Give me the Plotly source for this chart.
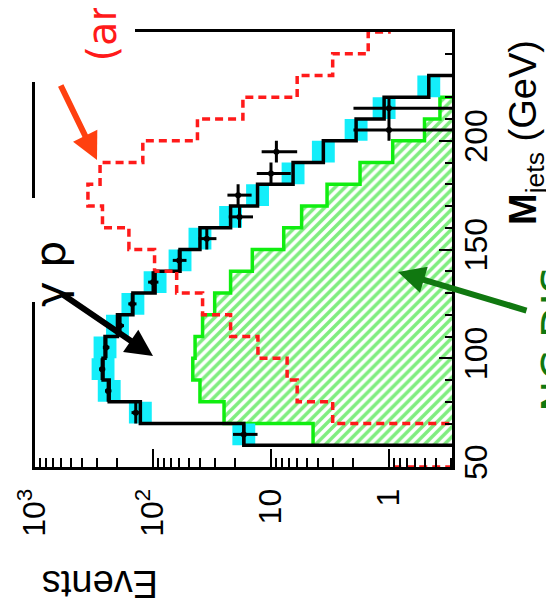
import numpy as np
import plotly.graph_objects as go

# ---------------- data ----------------
# lower edges of the M_jets bins (GeV); every bin is 10 GeV wide
m_low = [40, 50, 60, 70, 80, 90, 100, 110, 120, 130, 140, 150, 160, 170,
         180, 190, 200, 210, 220, 230, 240, 250]
bin_width = 10

# total MC (gamma p + NC DIS), black histogram
mc_total = [0, 0, 17, 128, 235, 265, 255, 200, 148, 96, 59, 40, 22, 13,
            6.5, 3.6, 1.9, 1.1, 0.46, 0, 0, 0]
# NC DIS contribution, green hatched histogram
nc_dis = [0, 0, 4.4, 25, 40, 46, 44, 38, 30, 22, 14.4, 7.8, 5.5, 3.35,
          1.76, 0.93, 0.5, 0.37, 0, 0, 0, 0]
# signal (arbitrary normalisation), red dashed histogram
signal = [1.0, 0, 0, 3.0, 6.0, 7.3, 12.9, 22, 38, 63, 97, 160, 268, 356,
          281, 122, 42, 17.3, 6.0, 3.0, 1.5, 1.0]

# data points
data_m = [65, 75, 85, 95, 105, 115, 125, 135, 145, 155, 165, 175, 185, 195, 205, 215]
data_n = [17, 140, 240, 270, 250, 190, 150, 100, 60, 35, 18.5, 19, 10, 9, 1, 1]
data_err_hi = [4, 12, 15, 16, 16, 14, 12, 10, 8, 6, 4.3, 4.4, 3.2, 3, 1, 1]
data_err_lo = [4, 12, 15, 16, 16, 14, 12, 10, 8, 6, 4.3, 4.4, 3.2, 3, 0.99, 0.99]

mc_band_factor = 1.25

# tick labels
ev_tickvals = [1000, 100, 10, 1]
ev_ticktext = ["10<sup>3</sup>", "10<sup>2</sup>", "10", "1"]
m_tickvals = [50, 100, 150, 200, 250]

# ---------------- helpers ----------------
FLOOR = 0.05  # below the axis minimum -> drawn to the frame
X_RANGE = [3.0, -0.534]
W, H = 554, 608
BODY = 8  # default page margin of the html body
PL, PR, PT, PB = 35, 452, 32, 467  # plot area in page pixels (layout only)


def step_path(lows, vals):
    lows = np.asarray(lows, float)
    v = np.asarray(vals, float)
    v = np.where(v > 0, v, FLOOR)
    x = np.repeat(v, 2)
    y = np.column_stack([lows, lows + bin_width]).ravel()
    return x, y


def px(x, y):
    return (x - PL) / (PR - PL), (PB - y) / (PB - PT)


fig = go.Figure()

# green hatched NC DIS
lows = np.asarray(m_low, float)
nc = np.asarray(nc_dis, float)
sel = nc > 0
gx, gy = step_path(lows[sel], nc[sel])
gx = np.concatenate([gx, [FLOOR, FLOOR]])
gy = np.concatenate([gy, [gy[-1], gy[0]]])
fig.add_trace(go.Scatter(
    x=gx, y=gy, mode="lines", fill="toself",
    fillcolor="white",
    fillpattern=dict(shape="/", fgcolor="#00dc00", bgcolor="white", size=7, solidity=0.5),
    line=dict(color="#10ee10", width=3.5), hoverinfo="skip", showlegend=False))

# cyan MC uncertainty band
mc = np.asarray(mc_total, float)
sel = mc > 0
ux, uy = step_path(lows[sel], mc[sel] * mc_band_factor)
lx, ly = step_path(lows[sel], mc[sel] / mc_band_factor)
fig.add_trace(go.Scatter(
    x=np.concatenate([ux, lx[::-1]]), y=np.concatenate([uy, ly[::-1]]),
    mode="lines", fill="toself", fillcolor="#14eefa",
    line=dict(width=0, color="#14eefa"), hoverinfo="skip", showlegend=False))

# black MC total
bx, by = step_path(m_low, mc_total)
fig.add_trace(go.Scatter(x=bx, y=by, mode="lines",
                         line=dict(color="black", width=3.5),
                         hoverinfo="skip", showlegend=False))

# red dashed signal
rx, ry = step_path(m_low, signal)
fig.add_trace(go.Scatter(x=rx, y=ry, mode="lines",
                         line=dict(color="#ff1a1a", width=3.5, dash="8px,5px"),
                         hoverinfo="skip", showlegend=False))

# data
fig.add_trace(go.Scatter(
    x=data_n, y=data_m, mode="markers",
    marker=dict(color="black", size=6),
    error_x=dict(type="data", array=data_err_hi, arrayminus=data_err_lo,
                 thickness=3, width=0, color="black"),
    error_y=dict(type="constant", value=bin_width / 2, thickness=3, width=0, color="black"),
    hoverinfo="skip", showlegend=False))

tickfont = dict(family="Liberation Sans, Arial, sans-serif", size=32, color="black")

fig.update_xaxes(
    type="log", range=X_RANGE, showgrid=False, zeroline=False, automargin=False,
    showline=True, linecolor="black", linewidth=3, mirror=True,
    ticks="inside", ticklen=18, tickwidth=2, tickcolor="black",
    tickmode="array", tickvals=ev_tickvals, ticktext=ev_ticktext,
    tickangle=-90, tickfont=tickfont, ticklabelstandoff=6,
    minor=dict(ticks="inside", ticklen=9, tickwidth=2, tickcolor="black",
               dtick="D1", showgrid=False))

fig.update_yaxes(
    range=[50, 250], side="right", showgrid=False, zeroline=False, automargin=False,
    showline=True, linecolor="black", linewidth=3, mirror=True,
    ticks="inside", ticklen=13, tickwidth=2, tickcolor="black",
    tickmode="array", tickvals=m_tickvals,
    tickangle=-90, tickfont=tickfont, ticklabelstandoff=-6,
    minor=dict(ticks="inside", ticklen=7, tickwidth=2, tickcolor="black",
               dtick=10, showgrid=False))

shapes = []
# white boxes that hide parts of the frame behind the labels
for (x0, y0, x1, y1) in [(0, 0, 135, 82), (18, 198, 78, 302)]:
    a0, b0 = px(x0, y1)
    a1, b1 = px(x1, y0)
    shapes.append(dict(type="rect", xref="paper", yref="paper", x0=a0, y0=b0, x1=a1, y1=b1,
                       fillcolor="white", line=dict(width=0), layer="above"))

ann = []
label_font = "DejaVu Sans, sans-serif"


def text_ann(text, x, y, angle, size, color, family=label_font, xanchor="center", yanchor="middle"):
    a, b = px(x, y)
    ann.append(dict(text=text, x=a, y=b, xref="paper", yref="paper", showarrow=False,
                    textangle=angle, xanchor=xanchor, yanchor=yanchor,
                    font=dict(family=family, size=size, color=color)))


def arrow_ann(tail, tip, color, width):
    a, b = px(*tip)
    ann.append(dict(text="", x=a, y=b, xref="paper", yref="paper", showarrow=True,
                    ax=tail[0] - tip[0], ay=tail[1] - tip[1],
                    arrowhead=2, arrowsize=0.9, arrowwidth=width, arrowcolor=color,
                    standoff=0, startstandoff=0))


text_ann("Events", 100, 584, 180, 38, "black", family="Liberation Sans, Arial, sans-serif")
text_ann("<b>M</b><sub>jets</sub> (GeV)", 526, 133, -90, 38, "black",
         family="Liberation Sans, Arial, sans-serif")
text_ann("(arb. units)", 101, 64, -90, 40, "#ff1a1a", yanchor="bottom")
text_ann("γ p", 50, 274, -90, 43, "black")
text_ann("NC DIS", 557, 340, -90, 42, "#107810")

arrow_ann((60, 84), (97, 160), "#ff4010", 6)
arrow_ann((62, 294), (153, 356), "black", 6)
arrow_ann((528, 311), (398, 272), "#107810", 6)

# the page body adds an 8 px margin, so shift the figure's own margins back
fig.update_layout(
    width=W, height=H, autosize=False,
    margin=dict(l=PL - BODY, r=W - (PR - BODY), t=PT - BODY, b=H - (PB - BODY), pad=0),
    paper_bgcolor="white", plot_bgcolor="white",
    shapes=shapes, annotations=ann, showlegend=False)

fig.write_html("out.html")
